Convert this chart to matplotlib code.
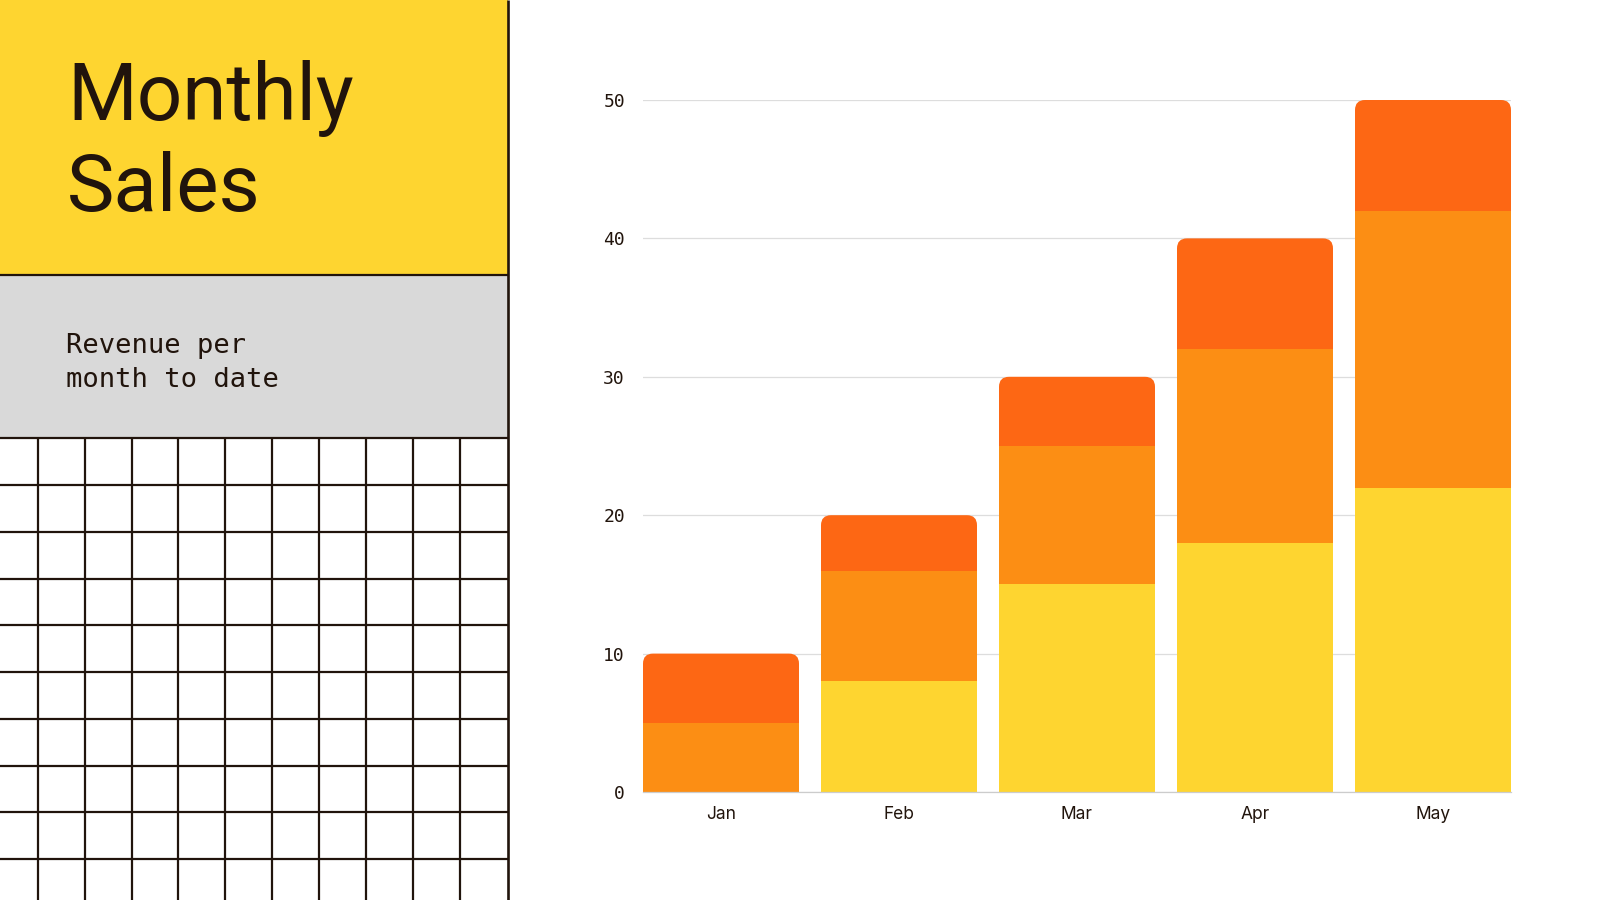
import matplotlib
matplotlib.use('Agg')
import matplotlib.pyplot as plt
from matplotlib.patches import Rectangle, FancyBboxPatch
import numpy as np

# data
months = ['Jan', 'Feb', 'Mar', 'Apr', 'May']
base_part = [0, 8, 15, 18, 22]
mid_part = [5, 8, 10, 14, 20]
top_part = [5, 4, 5, 8, 8]
y_ticks = [0, 10, 20, 30, 40, 50]

title_lines = ['Monthly', 'Sales']
subtitle_lines = ['Revenue per', 'month to date']

YELLOW = '#FED530'
ORANGE = '#FC8E14'
RED = '#FD6714'
INK = '#21140C'
GREY = '#D9D9D9'

W, H = 1600, 900
fig = plt.figure(figsize=(16, 9), dpi=100)
fig.patch.set_facecolor('white')

# left decorative panel, drawn in pixel coordinates
deco = fig.add_axes([0, 0, 1, 1], zorder=0)
deco.set_xlim(0, W)
deco.set_ylim(H, 0)
deco.axis('off')

panel_w = 508
deco.add_patch(Rectangle((0, 0), panel_w, 275, facecolor=YELLOW, edgecolor='none'))
deco.add_patch(Rectangle((0, 275), panel_w, 163, facecolor=GREY, edgecolor='none'))

lw = 1.6
deco.hlines(275, 0, panel_w, color=INK, lw=lw)
cell_h = 46.75
for yy in np.arange(438.3, H + 10, cell_h):
    deco.hlines(yy, 0, panel_w, color=INK, lw=lw)
cell_w = 46.9
for xx in np.arange(37.7, 500, cell_w):
    deco.vlines(xx, 438.3, H, color=INK, lw=lw)
deco.vlines(507.5, 0, H, color=INK, lw=1.9)

deco.text(67, 120, title_lines[0], fontsize=57.5, family='Roboto', color=INK, va='baseline')
deco.text(67, 211, title_lines[1], fontsize=57.5, family='Roboto', color=INK, va='baseline')
deco.text(66, 353, subtitle_lines[0], fontsize=19.5, family='DejaVu Sans Mono', color=INK, va='baseline')
deco.text(66, 387, subtitle_lines[1], fontsize=19.5, family='DejaVu Sans Mono', color=INK, va='baseline')

# chart
ax_l, ax_r = 643, 1511
ax_t, ax_b = 100, 792
ax = fig.add_axes([ax_l / W, 1 - ax_b / H, (ax_r - ax_l) / W, (ax_b - ax_t) / H], zorder=1)
ax.set_facecolor('none')

x = np.arange(len(months))
bar_w = 156 / 178
ax.set_xlim(-bar_w / 2, len(months) - 1 + bar_w / 2)
ax.set_ylim(0, 50)

px_x = (ax_r - ax_l) / (len(months) - 1 + bar_w)
px_y = (ax_b - ax_t) / 50
radius_px = 10
rx = radius_px / px_x
ry = radius_px / px_y

base = np.array(base_part, dtype=float)
mid = np.array(mid_part, dtype=float)
top = np.array(top_part, dtype=float)

ax.bar(x, base, width=bar_w, color=YELLOW, linewidth=0, zorder=2)
ax.bar(x, mid, width=bar_w, bottom=base, color=ORANGE, linewidth=0, zorder=2)
ax.bar(x, top - ry, width=bar_w, bottom=base + mid, color=RED, linewidth=0, zorder=2)
totals = base + mid + top
for xi, tot in zip(x, totals):
    cap = FancyBboxPatch((xi - bar_w / 2, tot - 2 * ry), bar_w, 2 * ry,
                         boxstyle=f'round,pad=0,rounding_size={rx}',
                         mutation_aspect=ry / rx, facecolor=RED,
                         edgecolor='none', linewidth=0, zorder=2, clip_on=False)
    ax.add_patch(cap)

ax.set_yticks(y_ticks)
ax.set_yticklabels([str(v) for v in y_ticks], family='DejaVu Sans Mono', fontsize=13, color=INK)
ax.set_xticks(x)
ax.set_xticklabels(months, family='Inter', fontsize=12.5, color=INK)
ax.tick_params(axis='y', length=0, pad=13)
ax.tick_params(axis='x', length=0, pad=10)
ax.grid(axis='y', color='#DDDDDD', linewidth=0.9, zorder=0)
ax.set_axisbelow(True)
for s in ['top', 'right', 'left']:
    ax.spines[s].set_visible(False)
ax.spines['bottom'].set_color('#CCCCCC')
ax.spines['bottom'].set_linewidth(0.9)

fig.savefig('out.png', dpi=100, facecolor='white')
